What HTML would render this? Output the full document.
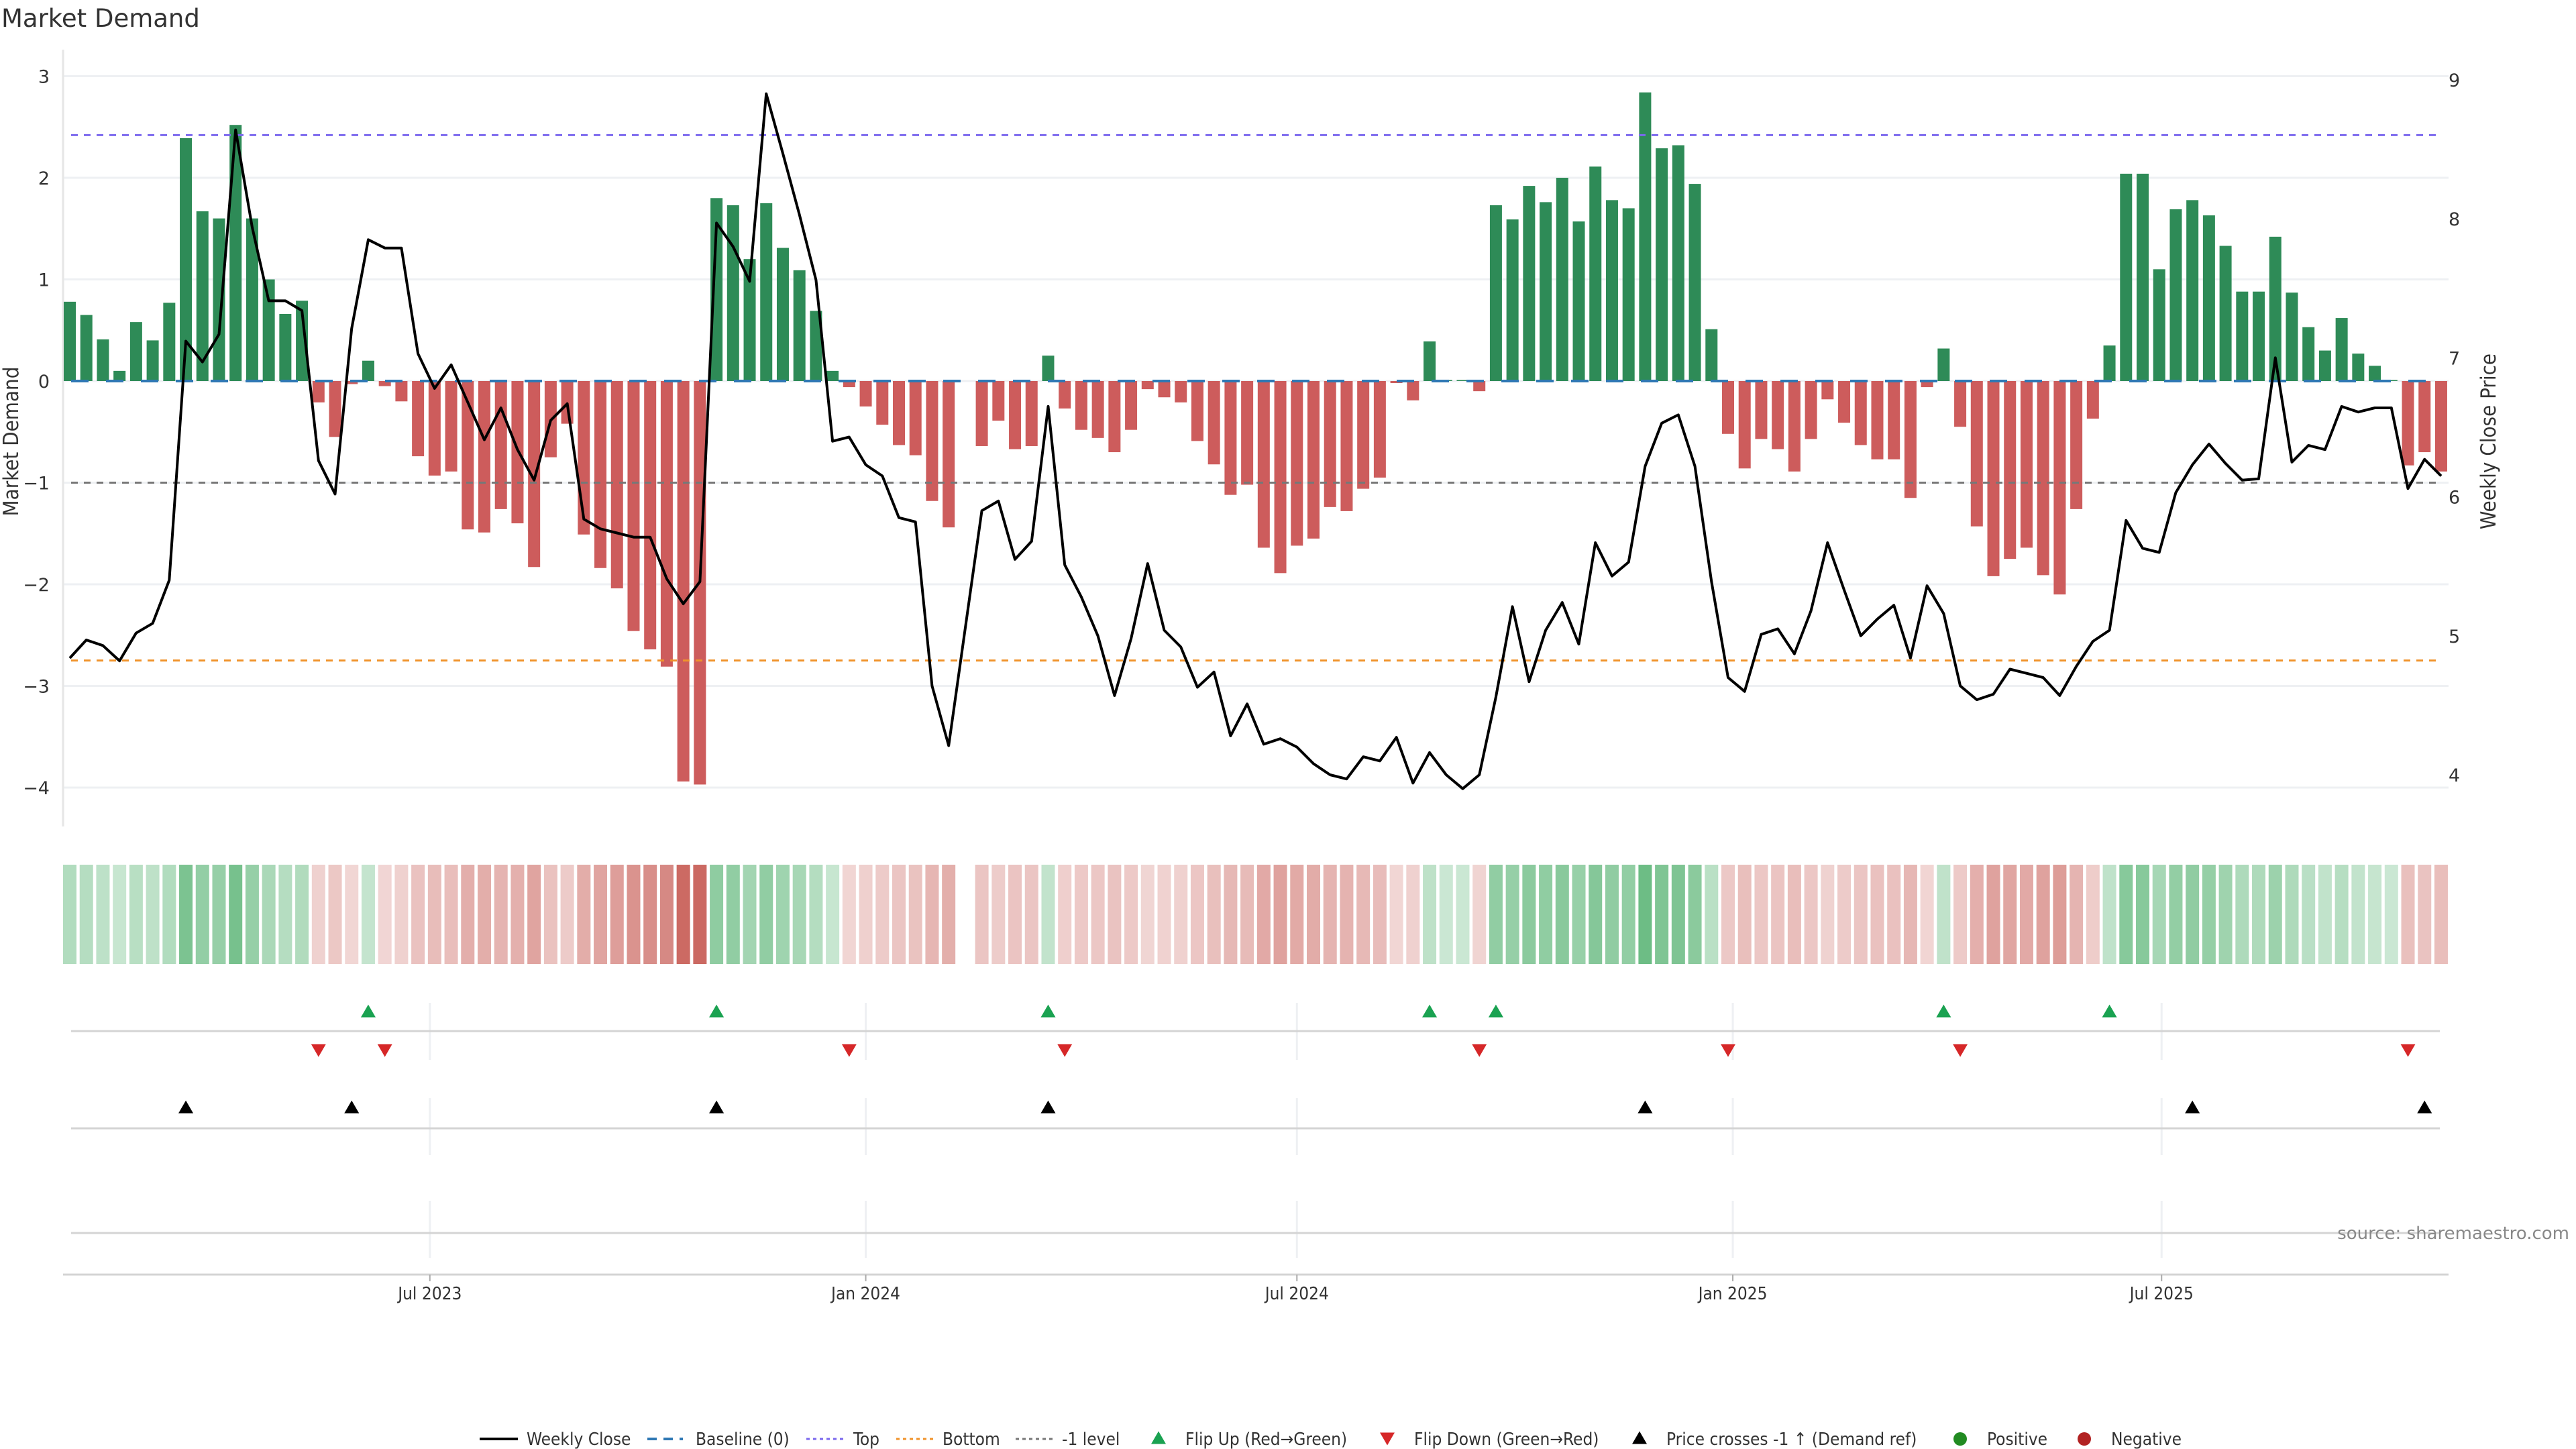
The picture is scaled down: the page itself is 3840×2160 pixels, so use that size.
<!DOCTYPE html>
<html><head><meta charset="utf-8"><style>
html,body{margin:0;padding:0;background:#fff;}
svg{display:block;}
text{font-family:"DejaVu Sans","Liberation Sans",sans-serif;fill:#333;}
.c{font-family:"DejaVu Sans Condensed","DejaVu Sans","Liberation Sans",sans-serif;}
</style></head><body>
<svg id="chart" width="3840" height="2160" viewBox="0 0 3840 2160" xmlns="http://www.w3.org/2000/svg">
<text x="2" y="40" font-size="37">Market Demand</text>
<g id="g"></g>
<text x="3830" y="1847" font-size="26" fill="#888" style="fill:#888" text-anchor="end">source: sharemaestro.com</text>
</svg>
<script>
const demand=[0.78,0.65,0.41,0.10,0.58,0.40,0.77,2.39,1.67,1.60,
2.52,1.60,1.00,0.66,0.79,-0.21,-0.55,-0.03,0.20,-0.05,
-0.20,-0.74,-0.93,-0.89,-1.46,-1.49,-1.26,-1.40,-1.83,-0.75,
-0.42,-1.51,-1.84,-2.04,-2.46,-2.64,-2.81,-3.94,-3.97,1.80,
1.73,1.20,1.75,1.31,1.09,0.69,0.10,-0.06,-0.25,-0.43,
-0.63,-0.73,-1.18,-1.44,null,-0.64,-0.39,-0.67,-0.64,0.25,
-0.27,-0.48,-0.56,-0.70,-0.48,-0.08,-0.16,-0.21,-0.59,-0.82,
-1.12,-1.02,-1.64,-1.89,-1.62,-1.55,-1.24,-1.28,-1.06,-0.95,
-0.02,-0.19,0.39,0.01,0.01,-0.10,1.73,1.59,1.92,1.76,
2.00,1.57,2.11,1.78,1.70,2.84,2.29,2.32,1.94,0.51,
-0.52,-0.86,-0.57,-0.67,-0.89,-0.57,-0.18,-0.41,-0.63,-0.77,
-0.77,-1.15,-0.06,0.32,-0.45,-1.43,-1.92,-1.75,-1.64,-1.91,
-2.10,-1.26,-0.37,0.35,2.04,2.04,1.10,1.69,1.78,1.63,
1.33,0.88,0.88,1.42,0.87,0.53,0.30,0.62,0.27,0.15,
0.01,-0.83,-0.70,-0.89];
const price=[4.84,4.97,4.93,4.82,5.02,5.09,5.40,7.12,6.97,7.17,
8.64,7.94,7.41,7.41,7.34,6.26,6.02,7.21,7.85,7.79,
7.79,7.03,6.78,6.95,6.68,6.41,6.64,6.34,6.12,6.55,
6.67,5.84,5.77,5.74,5.71,5.71,5.41,5.23,5.39,7.97,
7.80,7.55,8.90,8.47,8.03,7.56,6.40,6.43,6.23,6.15,
5.85,5.82,4.64,4.21,null,5.90,5.97,5.55,5.68,6.65,
5.51,5.28,5.00,4.57,4.98,5.52,5.04,4.92,4.63,4.74,
4.28,4.51,4.22,4.26,4.20,4.08,4.00,3.97,4.13,4.10,
4.27,3.94,4.16,4.00,3.90,4.00,4.56,5.21,4.67,5.04,
5.24,4.94,5.67,5.43,5.53,6.22,6.53,6.59,6.22,5.39,
4.70,4.60,5.01,5.05,4.87,5.18,5.67,5.33,5.00,5.12,
5.22,4.84,5.36,5.16,4.64,4.54,4.58,4.76,4.73,4.70,
4.57,4.78,4.96,5.04,5.83,5.63,5.60,6.03,6.23,6.38,
6.24,6.12,6.13,7.00,6.25,6.37,6.34,6.65,6.61,6.64,
6.64,6.06,6.27,6.15];
const leftTicks=[3,2,1,0,-1,-2,-3,-4];
const rightTicks=[9,8,7,6,5,4];
const xTickLabels=["Jul 2023","Jan 2024","Jul 2024","Jan 2025","Jul 2025"];
const xTickDates=["2023-07-01","2024-01-01","2024-07-01","2025-01-01","2025-07-01"];
const startDate="2023-01-30";
const topLevel=2.42, bottomLevel=-2.75, refLevel=-1;

const NS="http://www.w3.org/2000/svg";
const G=document.getElementById('g');
function el(tag,attrs,parent){const e=document.createElementNS(NS,tag);for(const k in attrs)e.setAttribute(k,attrs[k]);(parent||G).appendChild(e);return e;}
const X0=104, STEP=24.72;
const xi=i=>X0+i*STEP;
const d0=new Date(startDate+"T00:00:00Z").getTime();
const xd=s=>X0+((new Date(s+"T00:00:00Z").getTime()-d0)/86400000)/7*STEP;
const Y0=568, YU=151.5;
const yL=v=>Y0-v*YU;
const yR=p=>119+(9-p)*207.2;
const priceRef=9-(yL(refLevel)-119)/207.2;

// gridlines + left axis
leftTicks.forEach(t=>{
  const gl=el('line',{x1:94,x2:3650,y1:yL(t),y2:yL(t),stroke:'#eef0f3','stroke-width':3});
  
  
  const tx=el('text',{x:74,y:yL(t)+10,'font-size':27,'text-anchor':'end'});
  tx.textContent=(t<0?'\u2212':'')+Math.abs(t);
  
  
});
const la=el('line',{x1:94,x2:94,y1:74,y2:1232,stroke:'#e6e6e6','stroke-width':3});


rightTicks.forEach(t=>{
  const tx=el('text',{x:3650,y:yR(t)+10,'font-size':27});
  tx.textContent=t;
  
  
});
let yt=el('text',{x:0,y:0,'font-size':31,'text-anchor':'middle',class:'c',transform:'translate(27,658) rotate(-90)'});
yt.textContent='Market Demand';


yt=el('text',{x:0,y:0,'font-size':31,'text-anchor':'middle',class:'c',transform:'translate(3720,658) rotate(-90)'});
yt.textContent='Weekly Close Price';



// bars
demand.forEach((v,i)=>{
  if(v===null)return;
  const y=yL(Math.max(v,0)), h=Math.abs(v)*YU;
  const b=el('rect',{x:xi(i)-9,y:y,width:18,height:Math.max(h,0.5),fill:v>=0?'#2e8b57':'#cd5c5c'});
  
  
});
// reference lines
[[topLevel,'#7b68ee','10 9','top-line'],[bottomLevel,'#f0932b','10 9','bottom-line'],[refLevel,'#777','10 9','minus-one-line']].forEach(r=>{
  const l=el('line',{x1:106,x2:3637,y1:yL(r[0]),y2:yL(r[0]),stroke:r[1],'stroke-width':3,'stroke-dasharray':r[2]});
  
  
});
const bl=el('line',{x1:106,x2:3637,y1:yL(0),y2:yL(0),stroke:'#2f78b4','stroke-width':4,'stroke-dasharray':'26 26'});


// price line
let d='';let pen=false;
price.forEach((p,i)=>{if(p===null)return;d+=(pen?'L':'M')+xi(i).toFixed(1)+' '+yR(p).toFixed(1)+' ';pen=true;});
const pl=el('path',{d:d,fill:'none',stroke:'#000','stroke-width':4,'stroke-linejoin':'round'});



// heat strip
const maxG=Math.max(...demand.filter(v=>v!==null&&v>0));
const maxR=Math.max(...demand.filter(v=>v!==null&&v<0).map(Math.abs));
demand.forEach((v,i)=>{
  if(v===null)return;
  let c;
  if(v>=0){const a=0.25+0.45*v/maxG;c=[46,160,80].map(q=>Math.round(255*(1-a)+q*a));}
  else{const a=0.22+0.6*(-v)/maxR;c=[192,72,64].map(q=>Math.round(255*(1-a)+q*a));}
  const r=el('rect',{x:xi(i)-10,y:1289,width:20,height:148,fill:'rgb('+c.join(',')+')'});
  
  
});

// marker panels
[[1495,1580,1537],[1637,1722,1682],[1790,1875,1838]].forEach(pn=>{
  xTickDates.forEach(s=>{
    const v=el('line',{x1:xd(s),x2:xd(s),y1:pn[0],y2:pn[1],stroke:'#eef0f3','stroke-width':3});
    
    
  });
  const h=el('line',{x1:106,x2:3637,y1:pn[2],y2:pn[2],stroke:'#d4d4d4','stroke-width':3});
  
  
});
function tri(x,y,up,fill,name){
  const s=11,h=19;
  const pts=up?[[x-s,y+h/2],[x+s,y+h/2],[x,y-h/2]]:[[x-s,y-h/2],[x+s,y-h/2],[x,y+h/2]];
  const t=el('polygon',{points:pts.map(p=>p.join(',')).join(' '),fill:fill});
  
  
}
let prevD=null,prevP=null;
demand.forEach((v,i)=>{
  if(v===null)return;
  if(prevD!==null){
    if(prevD<0&&v>0)tri(xi(i),1507,true,'#1aa251','flip-up-marker');
    if(prevD>0&&v<0)tri(xi(i),1566,false,'#d62728','flip-down-marker');
  }
  prevD=v;
});
price.forEach((p,i)=>{
  if(p===null)return;
  if(prevP!==null&&prevP<priceRef&&p>=priceRef)tri(xi(i),1650,true,'#000','price-cross-marker');
  prevP=p;
});

// x axis
const xa=el('line',{x1:94,x2:3650,y1:1900,y2:1900,stroke:'#d4d4d4','stroke-width':3});


xTickDates.forEach((s,k)=>{
  const tk=el('line',{x1:xd(s),x2:xd(s),y1:1900,y2:1910,stroke:'#aaa','stroke-width':2});
  
  
  const t=el('text',{x:xd(s),y:1937,'font-size':26,'text-anchor':'middle',class:'c'});
  t.textContent=xTickLabels[k];
  
  
});

// legend
const LY=2145;
function ltext(x,s){const t=el('text',{x:x,y:LY+9,'font-size':26,class:'c'});t.textContent=s;}
function lline(x1,x2,col,dash,w,name){const l=el('line',{x1:x1,x2:x2,y1:LY,y2:LY,stroke:col,'stroke-width':w,'stroke-dasharray':dash});}
lline(715,772,'#000','none',4,'legend-weekly-close');ltext(785,'Weekly Close');
lline(965,1018,'#2f78b4','14 10',4,'legend-baseline');ltext(1037,'Baseline (0)');
lline(1202,1257,'#7b68ee','5 5',3,'legend-top');ltext(1272,'Top');
lline(1336,1391,'#f0932b','5 5',3,'legend-bottom');ltext(1405,'Bottom');
lline(1514,1569,'#777','5 5',3,'legend-minus-one');ltext(1583,'-1 level');
tri(1727,LY-2,true,'#1aa251','legend-flip-up');ltext(1767,'Flip Up (Red\u2192Green)');
tri(2068,LY,false,'#d62728','legend-flip-down');ltext(2108,'Flip Down (Green\u2192Red)');
tri(2444,LY-2,true,'#000','legend-price-cross');ltext(2484,'Price crosses -1 \u2191 (Demand ref)');
let cc=el('circle',{cx:2922,cy:LY,r:10,fill:'#228b22'});ltext(2962,'Positive');
cc=el('circle',{cx:3107,cy:LY,r:10,fill:'#b22222'});ltext(3147,'Negative');
</script>
</body></html>
